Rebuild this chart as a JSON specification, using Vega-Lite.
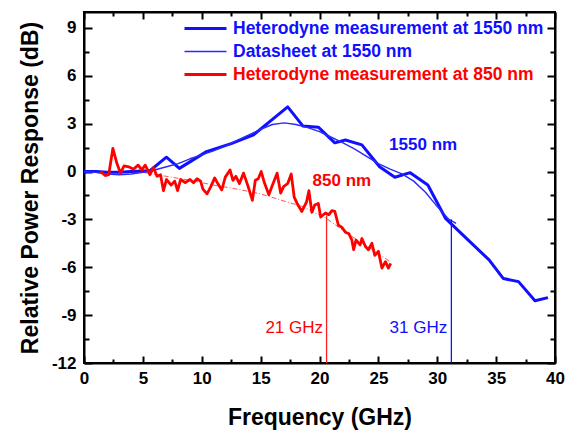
{
  "$schema": "https://vega.github.io/schema/vega-lite/v6.json",
  "width": 471,
  "height": 351,
  "autosize": "none",
  "padding": {"left": 84, "top": 12, "right": 10, "bottom": 67},
  "background": "white",
  "config": {
    "view": {"stroke": "black", "strokeWidth": 2},
    "font": "Liberation Sans",
    "axis": {
      "grid": false,
      "domainColor": "black",
      "domainWidth": 2,
      "tickColor": "black",
      "tickWidth": 2,
      "labelColor": "black",
      "titleColor": "black",
      "labelFont": "Liberation Sans",
      "titleFont": "Liberation Sans",
      "labelFontWeight": "bold",
      "titleFontWeight": "bold",
      "labelFontSize": 17,
      "titleFontSize": 23,
      "labelFlush": false,
      "labelOverlap": false
    }
  },
  "datasets": {
    "curves": [
      {"series": "Heterodyne measurement at 1550 nm", "f": 0, "db": 0},
      {"series": "Heterodyne measurement at 1550 nm", "f": 1, "db": 0},
      {"series": "Heterodyne measurement at 1550 nm", "f": 2, "db": -0.05},
      {"series": "Heterodyne measurement at 1550 nm", "f": 3, "db": -0.05},
      {"series": "Heterodyne measurement at 1550 nm", "f": 4, "db": 0},
      {"series": "Heterodyne measurement at 1550 nm", "f": 5.6, "db": 0.05},
      {"series": "Heterodyne measurement at 1550 nm", "f": 7.0, "db": 0.9},
      {"series": "Heterodyne measurement at 1550 nm", "f": 8.1, "db": 0.2},
      {"series": "Heterodyne measurement at 1550 nm", "f": 10.4, "db": 1.25},
      {"series": "Heterodyne measurement at 1550 nm", "f": 12.5, "db": 1.75},
      {"series": "Heterodyne measurement at 1550 nm", "f": 14.4, "db": 2.3},
      {"series": "Heterodyne measurement at 1550 nm", "f": 17.3, "db": 4.05},
      {"series": "Heterodyne measurement at 1550 nm", "f": 18.6, "db": 2.85},
      {"series": "Heterodyne measurement at 1550 nm", "f": 19.9, "db": 2.78},
      {"series": "Heterodyne measurement at 1550 nm", "f": 21.3, "db": 1.8},
      {"series": "Heterodyne measurement at 1550 nm", "f": 22.2, "db": 1.98},
      {"series": "Heterodyne measurement at 1550 nm", "f": 23.6, "db": 1.67},
      {"series": "Heterodyne measurement at 1550 nm", "f": 25.1, "db": 0.3},
      {"series": "Heterodyne measurement at 1550 nm", "f": 26.4, "db": -0.36},
      {"series": "Heterodyne measurement at 1550 nm", "f": 27.7, "db": -0.07},
      {"series": "Heterodyne measurement at 1550 nm", "f": 29.2, "db": -0.84},
      {"series": "Heterodyne measurement at 1550 nm", "f": 30.7, "db": -2.93},
      {"series": "Heterodyne measurement at 1550 nm", "f": 32.5, "db": -4.2},
      {"series": "Heterodyne measurement at 1550 nm", "f": 34.4, "db": -5.54},
      {"series": "Heterodyne measurement at 1550 nm", "f": 35.6, "db": -6.7},
      {"series": "Heterodyne measurement at 1550 nm", "f": 36.9, "db": -6.9},
      {"series": "Heterodyne measurement at 1550 nm", "f": 38.3, "db": -8.1},
      {"series": "Heterodyne measurement at 1550 nm", "f": 39.4, "db": -7.9},
      {"series": "Datasheet at 1550 nm", "f": 0, "db": 0},
      {"series": "Datasheet at 1550 nm", "f": 1, "db": -0.05},
      {"series": "Datasheet at 1550 nm", "f": 2, "db": -0.15},
      {"series": "Datasheet at 1550 nm", "f": 3, "db": -0.2},
      {"series": "Datasheet at 1550 nm", "f": 4, "db": -0.15},
      {"series": "Datasheet at 1550 nm", "f": 5, "db": -0.05},
      {"series": "Datasheet at 1550 nm", "f": 6, "db": 0.1},
      {"series": "Datasheet at 1550 nm", "f": 7, "db": 0.3},
      {"series": "Datasheet at 1550 nm", "f": 8, "db": 0.5},
      {"series": "Datasheet at 1550 nm", "f": 9, "db": 0.8},
      {"series": "Datasheet at 1550 nm", "f": 10, "db": 1.05},
      {"series": "Datasheet at 1550 nm", "f": 11, "db": 1.3},
      {"series": "Datasheet at 1550 nm", "f": 12, "db": 1.6},
      {"series": "Datasheet at 1550 nm", "f": 13, "db": 1.95},
      {"series": "Datasheet at 1550 nm", "f": 14, "db": 2.3},
      {"series": "Datasheet at 1550 nm", "f": 15, "db": 2.65},
      {"series": "Datasheet at 1550 nm", "f": 16, "db": 2.95},
      {"series": "Datasheet at 1550 nm", "f": 17, "db": 3.05},
      {"series": "Datasheet at 1550 nm", "f": 18, "db": 2.95},
      {"series": "Datasheet at 1550 nm", "f": 19, "db": 2.75},
      {"series": "Datasheet at 1550 nm", "f": 20, "db": 2.5},
      {"series": "Datasheet at 1550 nm", "f": 21, "db": 2.15},
      {"series": "Datasheet at 1550 nm", "f": 22, "db": 1.8},
      {"series": "Datasheet at 1550 nm", "f": 23, "db": 1.4},
      {"series": "Datasheet at 1550 nm", "f": 24, "db": 0.95},
      {"series": "Datasheet at 1550 nm", "f": 25, "db": 0.5},
      {"series": "Datasheet at 1550 nm", "f": 26, "db": 0.15},
      {"series": "Datasheet at 1550 nm", "f": 27, "db": -0.15},
      {"series": "Datasheet at 1550 nm", "f": 28, "db": -0.6},
      {"series": "Datasheet at 1550 nm", "f": 29, "db": -1.3},
      {"series": "Datasheet at 1550 nm", "f": 30, "db": -2.2},
      {"series": "Datasheet at 1550 nm", "f": 31, "db": -3.0},
      {"series": "Datasheet at 1550 nm", "f": 31.6, "db": -3.25},
      {"series": "Heterodyne measurement at 850 nm", "f": 1.4, "db": 0.0},
      {"series": "Heterodyne measurement at 850 nm", "f": 1.8, "db": -0.25},
      {"series": "Heterodyne measurement at 850 nm", "f": 2.1, "db": -0.2},
      {"series": "Heterodyne measurement at 850 nm", "f": 2.45, "db": 1.45},
      {"series": "Heterodyne measurement at 850 nm", "f": 2.8, "db": 0.5},
      {"series": "Heterodyne measurement at 850 nm", "f": 3.1, "db": -0.1},
      {"series": "Heterodyne measurement at 850 nm", "f": 3.4, "db": 0.35},
      {"series": "Heterodyne measurement at 850 nm", "f": 3.8, "db": 0.3},
      {"series": "Heterodyne measurement at 850 nm", "f": 4.2, "db": 0.15},
      {"series": "Heterodyne measurement at 850 nm", "f": 4.6, "db": 0.4},
      {"series": "Heterodyne measurement at 850 nm", "f": 4.9, "db": 0.1},
      {"series": "Heterodyne measurement at 850 nm", "f": 5.2, "db": 0.4},
      {"series": "Heterodyne measurement at 850 nm", "f": 5.6, "db": -0.2},
      {"series": "Heterodyne measurement at 850 nm", "f": 5.9, "db": 0.25},
      {"series": "Heterodyne measurement at 850 nm", "f": 6.2, "db": -0.3},
      {"series": "Heterodyne measurement at 850 nm", "f": 6.5, "db": -0.2},
      {"series": "Heterodyne measurement at 850 nm", "f": 6.75, "db": -1.2},
      {"series": "Heterodyne measurement at 850 nm", "f": 7.0, "db": -0.5},
      {"series": "Heterodyne measurement at 850 nm", "f": 7.4, "db": -0.85},
      {"series": "Heterodyne measurement at 850 nm", "f": 7.7, "db": -0.6},
      {"series": "Heterodyne measurement at 850 nm", "f": 7.95, "db": -1.2},
      {"series": "Heterodyne measurement at 850 nm", "f": 8.2, "db": -0.5},
      {"series": "Heterodyne measurement at 850 nm", "f": 8.6, "db": -0.7},
      {"series": "Heterodyne measurement at 850 nm", "f": 9.0, "db": -0.5},
      {"series": "Heterodyne measurement at 850 nm", "f": 9.3, "db": -0.7},
      {"series": "Heterodyne measurement at 850 nm", "f": 9.6, "db": -0.45},
      {"series": "Heterodyne measurement at 850 nm", "f": 9.9, "db": -0.6},
      {"series": "Heterodyne measurement at 850 nm", "f": 10.1, "db": -1.1},
      {"series": "Heterodyne measurement at 850 nm", "f": 10.45, "db": -1.4},
      {"series": "Heterodyne measurement at 850 nm", "f": 10.8, "db": -0.9},
      {"series": "Heterodyne measurement at 850 nm", "f": 11.1, "db": -0.4},
      {"series": "Heterodyne measurement at 850 nm", "f": 11.4, "db": -0.8},
      {"series": "Heterodyne measurement at 850 nm", "f": 11.7, "db": -1.15},
      {"series": "Heterodyne measurement at 850 nm", "f": 12.0, "db": -0.35},
      {"series": "Heterodyne measurement at 850 nm", "f": 12.4, "db": 0.1},
      {"series": "Heterodyne measurement at 850 nm", "f": 12.65, "db": -0.55},
      {"series": "Heterodyne measurement at 850 nm", "f": 12.9, "db": -0.3},
      {"series": "Heterodyne measurement at 850 nm", "f": 13.2, "db": -0.75},
      {"series": "Heterodyne measurement at 850 nm", "f": 13.55, "db": -0.1},
      {"series": "Heterodyne measurement at 850 nm", "f": 13.9, "db": -0.85},
      {"series": "Heterodyne measurement at 850 nm", "f": 14.3, "db": -1.8},
      {"series": "Heterodyne measurement at 850 nm", "f": 14.55, "db": -0.55},
      {"series": "Heterodyne measurement at 850 nm", "f": 14.8, "db": -0.45},
      {"series": "Heterodyne measurement at 850 nm", "f": 15.05, "db": 0.0},
      {"series": "Heterodyne measurement at 850 nm", "f": 15.3, "db": -0.65},
      {"series": "Heterodyne measurement at 850 nm", "f": 15.7, "db": -1.45},
      {"series": "Heterodyne measurement at 850 nm", "f": 15.95, "db": -0.95},
      {"series": "Heterodyne measurement at 850 nm", "f": 16.4, "db": -0.1},
      {"series": "Heterodyne measurement at 850 nm", "f": 16.7, "db": -1.35},
      {"series": "Heterodyne measurement at 850 nm", "f": 16.95, "db": -0.95},
      {"series": "Heterodyne measurement at 850 nm", "f": 17.3, "db": -0.75},
      {"series": "Heterodyne measurement at 850 nm", "f": 17.6, "db": -0.15},
      {"series": "Heterodyne measurement at 850 nm", "f": 17.85, "db": -1.6},
      {"series": "Heterodyne measurement at 850 nm", "f": 18.1, "db": -2.0},
      {"series": "Heterodyne measurement at 850 nm", "f": 18.5, "db": -2.5},
      {"series": "Heterodyne measurement at 850 nm", "f": 18.9, "db": -1.9},
      {"series": "Heterodyne measurement at 850 nm", "f": 19.1, "db": -1.2},
      {"series": "Heterodyne measurement at 850 nm", "f": 19.35, "db": -2.55},
      {"series": "Heterodyne measurement at 850 nm", "f": 19.6, "db": -2.1},
      {"series": "Heterodyne measurement at 850 nm", "f": 19.9, "db": -2.0},
      {"series": "Heterodyne measurement at 850 nm", "f": 20.1, "db": -2.85},
      {"series": "Heterodyne measurement at 850 nm", "f": 20.5, "db": -2.6},
      {"series": "Heterodyne measurement at 850 nm", "f": 20.8, "db": -2.7},
      {"series": "Heterodyne measurement at 850 nm", "f": 21.05, "db": -2.45},
      {"series": "Heterodyne measurement at 850 nm", "f": 21.3, "db": -2.5},
      {"series": "Heterodyne measurement at 850 nm", "f": 21.6, "db": -3.35},
      {"series": "Heterodyne measurement at 850 nm", "f": 21.9, "db": -3.5},
      {"series": "Heterodyne measurement at 850 nm", "f": 22.2, "db": -3.8},
      {"series": "Heterodyne measurement at 850 nm", "f": 22.5, "db": -3.9},
      {"series": "Heterodyne measurement at 850 nm", "f": 22.75, "db": -4.3},
      {"series": "Heterodyne measurement at 850 nm", "f": 22.9, "db": -4.9},
      {"series": "Heterodyne measurement at 850 nm", "f": 23.1, "db": -4.3},
      {"series": "Heterodyne measurement at 850 nm", "f": 23.45, "db": -4.6},
      {"series": "Heterodyne measurement at 850 nm", "f": 23.6, "db": -4.2},
      {"series": "Heterodyne measurement at 850 nm", "f": 23.9, "db": -4.7},
      {"series": "Heterodyne measurement at 850 nm", "f": 24.15, "db": -4.9},
      {"series": "Heterodyne measurement at 850 nm", "f": 24.45, "db": -4.5},
      {"series": "Heterodyne measurement at 850 nm", "f": 24.7, "db": -5.25},
      {"series": "Heterodyne measurement at 850 nm", "f": 25.0, "db": -5.0},
      {"series": "Heterodyne measurement at 850 nm", "f": 25.3, "db": -6.05},
      {"series": "Heterodyne measurement at 850 nm", "f": 25.6, "db": -5.65},
      {"series": "Heterodyne measurement at 850 nm", "f": 25.85, "db": -6.05},
      {"series": "Heterodyne measurement at 850 nm", "f": 26.05, "db": -5.75}
    ],
    "fit": [
      {"f": 0, "db": 0},
      {"f": 3, "db": 0},
      {"f": 5, "db": -0.05},
      {"f": 7, "db": -0.3},
      {"f": 9, "db": -0.55},
      {"f": 11, "db": -0.85},
      {"f": 13, "db": -1.1},
      {"f": 15, "db": -1.4},
      {"f": 17, "db": -1.85},
      {"f": 18.6, "db": -2.2},
      {"f": 20.6, "db": -2.95},
      {"f": 22.6, "db": -4.0},
      {"f": 24, "db": -4.65},
      {"f": 26, "db": -5.65}
    ],
    "markers": [
      {"kind": "850 nm", "f": 20.6, "top": -2.75, "bottom": -12},
      {"kind": "1550 nm", "f": 31.2, "top": -3.0, "bottom": -12}
    ],
    "boldLabels": [
      {"text": "1550 nm", "f": 28.8, "db": 1.67},
      {"text": "850 nm", "f": 21.9, "db": -0.57}
    ],
    "cutoffLabels": [
      {"text": "21 GHz", "f": 20.3, "db": -9.82},
      {"text": "31 GHz", "f": 30.85, "db": -9.82}
    ]
  },
  "layer": [
    {
      "data": {"name": "fit"},
      "mark": {"type": "line", "color": "#ff0000", "strokeWidth": 0.8, "strokeDash": [5, 2, 1, 2], "opacity": 0.85},
      "encoding": {
        "x": {"field": "f", "type": "quantitative", "axis": null},
        "y": {"field": "db", "type": "quantitative", "axis": null}
      }
    },
    {
      "data": {"name": "curves"},
      "mark": {"type": "line", "strokeJoin": "round", "strokeCap": "butt"},
      "encoding": {
        "x": {
          "field": "f", "type": "quantitative",
          "scale": {"domain": [0, 40], "nice": false, "zero": false},
          "axis": {
            "orient": "bottom",
            "values": [0, 2.5, 5, 7.5, 10, 12.5, 15, 17.5, 20, 22.5, 25, 27.5, 30, 32.5, 35, 37.5, 40],
            "labelExpr": "datum.value % 5 === 0 ? '' + datum.value : ''",
            "tickSize": {"condition": {"test": "datum.value % 5 === 0", "value": -7}, "value": -4},
            "labelPadding": 14,
            "title": "Frequency (GHz)",
            "titlePadding": 17
          }
        },
        "y": {
          "field": "db", "type": "quantitative",
          "scale": {"domain": [-12, 10], "nice": false, "zero": false},
          "axis": {
            "orient": "left",
            "values": [-12, -10.5, -9, -7.5, -6, -4.5, -3, -1.5, 0, 1.5, 3, 4.5, 6, 7.5, 9],
            "labelExpr": "datum.value % 3 === 0 ? '' + datum.value : ''",
            "tickSize": {"condition": {"test": "datum.value % 3 === 0", "value": -8}, "value": -5},
            "labelPadding": 16,
            "title": "Relative Power Response (dB)",
            "titlePadding": 9
          }
        },
        "color": {
          "field": "series", "type": "nominal",
          "scale": {
            "domain": ["Heterodyne measurement at 1550 nm", "Datasheet at 1550 nm", "Heterodyne measurement at 850 nm"],
            "range": ["#1010ff", "#2a2aff", "#ff0000"]
          },
          "legend": {
            "orient": "none",
            "legendX": 99,
            "legendY": 8,
            "title": null,
            "symbolType": "stroke",
            "symbolSize": 1764,
            "symbolStrokeWidth": 3,
            "clipHeight": 17,
            "rowPadding": 5,
            "labelOffset": 5,
            "labelFont": "Liberation Sans",
            "labelFontWeight": "bold",
            "labelFontSize": 17.5,
            "labelLimit": 400,
            "padding": 0,
            "encode": {
              "labels": {"update": {"fill": {"signal": "indexof(datum.label, '850') >= 0 ? '#ff0000' : '#1010ff'"}}},
              "symbols": {"update": {"strokeWidth": {"signal": "datum.value === 'Datasheet at 1550 nm' ? 1.4 : 3"}}}
            }
          }
        },
        "strokeWidth": {
          "field": "series", "type": "nominal",
          "scale": {
            "type": "ordinal",
            "domain": ["Heterodyne measurement at 1550 nm", "Datasheet at 1550 nm", "Heterodyne measurement at 850 nm"],
            "range": [3, 1.4, 2.8]
          },
          "legend": null
        }
      }
    },
    {
      "data": {"name": "markers"},
      "mark": {"type": "rule", "strokeWidth": 1.3},
      "encoding": {
        "x": {
          "field": "f", "type": "quantitative",
          "axis": {
            "orient": "top",
            "values": [0, 2.5, 5, 7.5, 10, 12.5, 15, 17.5, 20, 22.5, 25, 27.5, 30, 32.5, 35, 37.5, 40],
            "labels": false,
            "title": null,
            "tickSize": {"condition": {"test": "datum.value % 5 === 0", "value": -7}, "value": -4}
          }
        },
        "y": {
          "field": "top", "type": "quantitative",
          "axis": {
            "orient": "right",
            "values": [-12, -10.5, -9, -7.5, -6, -4.5, -3, -1.5, 0, 1.5, 3, 4.5, 6, 7.5, 9],
            "labels": false,
            "title": null,
            "tickSize": {"condition": {"test": "datum.value % 3 === 0", "value": -8}, "value": -5}
          }
        },
        "y2": {"field": "bottom"},
        "color": {"condition": {"test": "datum.kind === '850 nm'", "value": "#ff2020"}, "value": "#1010ff"}
      }
    },
    {
      "data": {"name": "boldLabels"},
      "mark": {"type": "text", "font": "Liberation Sans", "fontWeight": "bold", "fontSize": 17, "align": "center", "baseline": "middle"},
      "encoding": {
        "x": {"field": "f", "type": "quantitative", "axis": null},
        "y": {"field": "db", "type": "quantitative", "axis": null},
        "text": {"field": "text"},
        "color": {"condition": {"test": "datum.text === '850 nm'", "value": "#ff0000"}, "value": "#1010ff"}
      }
    },
    {
      "data": {"name": "cutoffLabels"},
      "mark": {"type": "text", "font": "Liberation Sans", "fontSize": 17, "align": "right", "baseline": "middle"},
      "encoding": {
        "x": {"field": "f", "type": "quantitative", "axis": null},
        "y": {"field": "db", "type": "quantitative", "axis": null},
        "text": {"field": "text"},
        "color": {"condition": {"test": "datum.text === '21 GHz'", "value": "#ff0000"}, "value": "#1010ff"}
      }
    }
  ],
  "resolve": {"axis": {"x": "independent", "y": "independent"}}
}
